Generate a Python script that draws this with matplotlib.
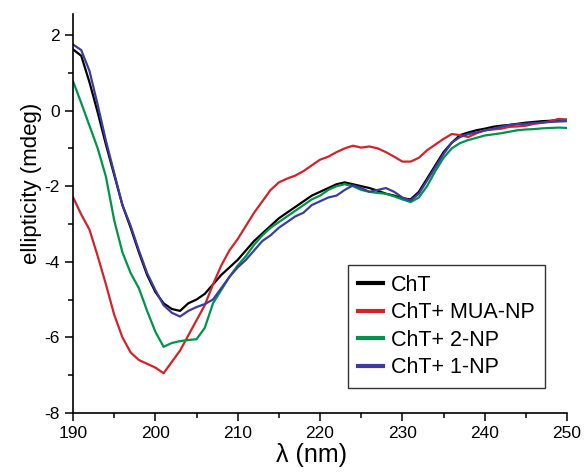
import matplotlib
matplotlib.use('Agg')
import matplotlib.pyplot as plt
import numpy as np
from matplotlib.ticker import MultipleLocator

plt.rcParams['font.family'] = ['Liberation Sans', 'DejaVu Sans']
plt.rcParams['axes.unicode_minus'] = False

# wavelength grid (nm), 1 nm steps
wl = np.arange(190, 251)

cht = [1.62, 1.45, 0.75, -0.05, -0.9, -1.7, -2.5, -3.1, -3.75, -4.35,
       -4.8, -5.1, -5.25, -5.3, -5.1, -5.0, -4.85, -4.6, -4.35, -4.15,
       -3.95, -3.7, -3.45, -3.25, -3.05, -2.85, -2.7, -2.55, -2.4, -2.25,
       -2.15, -2.05, -1.95, -1.9, -1.95, -2.0, -2.05, -2.12, -2.2, -2.25,
       -2.32, -2.35, -2.15, -1.8, -1.45, -1.1, -0.85, -0.65, -0.58, -0.52,
       -0.48, -0.43, -0.4, -0.38, -0.35, -0.32, -0.3, -0.28, -0.27, -0.24,
       -0.24]
cht_mua = [-2.29, -2.75, -3.15, -3.85, -4.6, -5.4, -6.0, -6.4, -6.6, -6.7,
           -6.8, -6.95, -6.65, -6.35, -5.95, -5.55, -5.15, -4.6, -4.1, -3.7,
           -3.4, -3.05, -2.7, -2.4, -2.1, -1.9, -1.8, -1.72, -1.6, -1.45,
           -1.3, -1.22, -1.1, -1.0, -0.93, -0.98, -0.95, -1.0, -1.1, -1.22,
           -1.35, -1.35, -1.25, -1.05, -0.9, -0.75, -0.62, -0.65, -0.7, -0.6,
           -0.52, -0.5, -0.48, -0.43, -0.42, -0.4, -0.35, -0.32, -0.28, -0.22,
           -0.25]
cht_2np = [0.78, 0.2, -0.4, -1.0, -1.75, -2.9, -3.75, -4.3, -4.7, -5.3,
           -5.85, -6.25, -6.15, -6.1, -6.07, -6.05, -5.75, -5.1, -4.75, -4.4,
           -4.1, -3.85, -3.55, -3.3, -3.1, -2.95, -2.8, -2.65, -2.5, -2.35,
           -2.25, -2.1, -2.0, -1.95, -2.0, -2.1, -2.15, -2.18, -2.2, -2.27,
           -2.35, -2.42, -2.3, -2.0, -1.6, -1.25, -1.0, -0.86, -0.78, -0.72,
           -0.66, -0.63, -0.6, -0.56, -0.52, -0.5, -0.49, -0.47, -0.46, -0.45,
           -0.46]
cht_1np = [1.75, 1.6, 1.05, 0.15, -0.8, -1.65, -2.5, -3.05, -3.7, -4.3,
           -4.75, -5.15, -5.35, -5.45, -5.3, -5.2, -5.12, -5.0, -4.7, -4.4,
           -4.15, -3.95, -3.7, -3.45, -3.3, -3.1, -2.95, -2.8, -2.7, -2.5,
           -2.4, -2.3, -2.25, -2.1, -1.98, -2.05, -2.15, -2.1, -2.05, -2.15,
           -2.3, -2.38, -2.2, -1.85, -1.5, -1.15, -0.85, -0.7, -0.62, -0.58,
           -0.53, -0.48, -0.43, -0.38, -0.36, -0.35, -0.33, -0.32, -0.3, -0.29,
           -0.28]

labels = ['ChT', 'ChT+ MUA-NP', 'ChT+ 2-NP', 'ChT+ 1-NP']
colors = ['#000000', '#d2232a', '#00934a', '#3c3ca0']

fig = plt.figure(figsize=(5.84, 4.73), dpi=100)
ax = fig.add_axes([0.125, 0.127, 0.846, 0.843])

for y, lab, c in zip([cht, cht_mua, cht_2np, cht_1np], labels, colors):
    ax.plot(wl, y, color=c, lw=1.6, label=lab)

ax.set_xlim(190, 250)
ax.set_ylim(-8, 2.55)
ax.xaxis.set_major_locator(MultipleLocator(10))
ax.xaxis.set_minor_locator(MultipleLocator(5))
ax.yaxis.set_major_locator(MultipleLocator(2))
ax.yaxis.set_minor_locator(MultipleLocator(1))
ax.tick_params(which='major', length=6, width=1.1, labelsize=12.5, direction='out')
ax.tick_params(which='minor', length=3.5, width=1.1, direction='out')

for s in ['top', 'right']:
    ax.spines[s].set_visible(False)
for s in ['left', 'bottom']:
    ax.spines[s].set_linewidth(1.2)

ax.set_xlabel('λ (nm)', fontsize=18)
ax.set_ylabel('ellipticity (mdeg)', fontsize=16)
ax.xaxis.set_label_coords(0.482, -0.075)
ax.yaxis.set_label_coords(-0.063, 0.576)

leg = ax.legend(loc='lower left', bbox_to_anchor=(0.557, 0.063), borderaxespad=0,
                fontsize=15.5, frameon=True, fancybox=False, handlelength=1.15,
                handletextpad=0.4, labelspacing=0.3, borderpad=0.45)
leg.get_frame().set_edgecolor('black')
leg.get_frame().set_linewidth(1.0)
for line in leg.get_lines():
    line.set_linewidth(3)

fig.savefig('out.png', dpi=100)
